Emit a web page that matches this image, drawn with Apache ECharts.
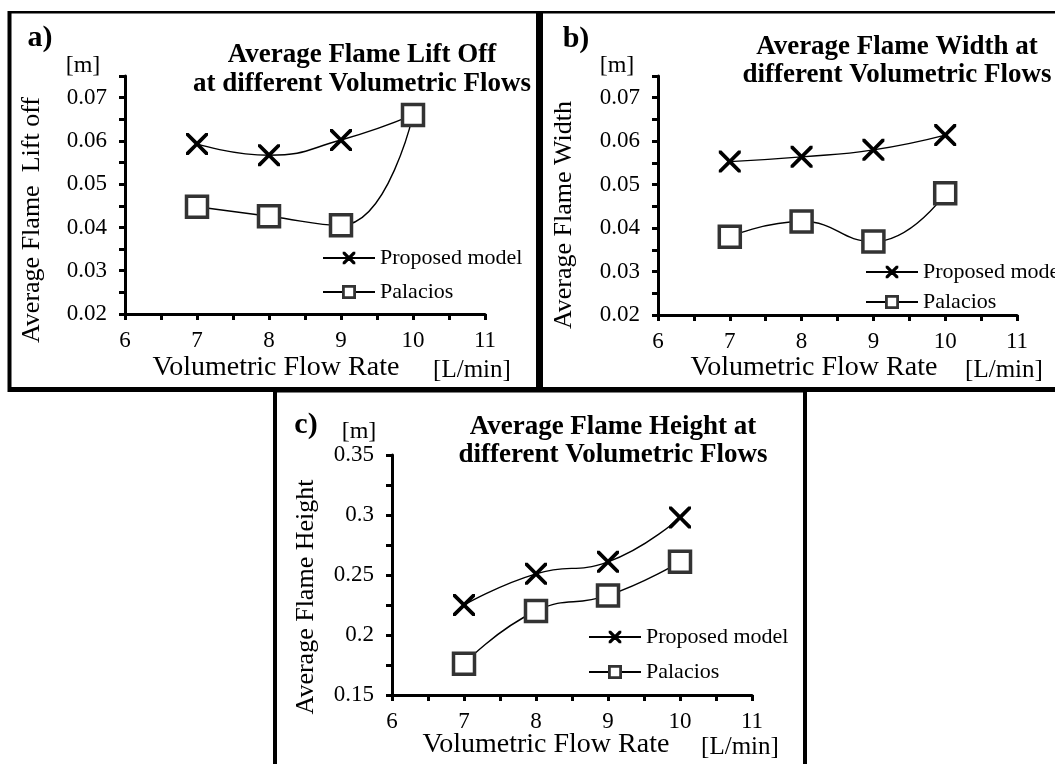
<!DOCTYPE html>
<html>
<head>
<meta charset="utf-8">
<title>Average Flame at different Volumetric Flows</title>
<script src="https://cdn.jsdelivr.net/npm/echarts@6/dist/echarts.min.js"></script>
<style>
  html, body { margin: 0; padding: 0; background: #fff; }
  #chart { width: 1055px; height: 764px; }
</style>
</head>
<body>
<div id="chart"></div>
<script>
// volumetric flow rate [L/min]
const flowRates = [7, 8, 9, 10];
const seriesNames = ['Proposed model', 'Palacios'];

// a) average flame lift off [m]
const liftOffProposed = [0.0593, 0.0567, 0.0602, 0.0660];
const liftOffPalacios = [0.0448, 0.0426, 0.0405, 0.0660];
// b) average flame width [m]
const widthProposed = [0.0553, 0.0564, 0.0580, 0.0614];
const widthPalacios = [0.0380, 0.0415, 0.0369, 0.0480];
// c) average flame height [m]
const heightProposed = [0.225, 0.251, 0.261, 0.298];
const heightPalacios = [0.176, 0.220, 0.233, 0.261];

// tick labels that are printed
const xTickLabels = [6, 7, 8, 9, 10, 11];
const yTickLabelsSmall = [0.02, 0.03, 0.04, 0.05, 0.06, 0.07];
const yTickLabelsHeight = [0.15, 0.2, 0.25, 0.3, 0.35];

const FONT = 'Liberation Serif';
// cross marker (Excel "x")
const crossPath = 'path://M0,0L12,0L50,38L88,0L100,0L100,12L62,50L100,88L100,100L88,100L50,62L12,100L0,100L0,88L38,50L0,12Z';

function pairs(ys) {
  return flowRates.map(function (x, i) { return [x, ys[i]]; });
}

function labelOf(list, v) {
  for (let i = 0; i < list.length; i++) {
    if (Math.abs(list[i] - v) < 1e-9) return list[i];
  }
  return null;
}

function xAxisFor(gi) {
  return {
    type: 'value', gridIndex: gi, min: 6, max: 11, interval: 0.5,
    axisLine: { show: true, onZero: false, lineStyle: { color: '#000', width: 3 } },
    axisTick: { show: true, length: 6, lineStyle: { color: '#000', width: 3 } },
    splitLine: { show: false },
    axisLabel: {
      margin: 15, color: '#000', fontFamily: FONT, fontSize: 23,
      formatter: function (v) { const l = labelOf(xTickLabels, v); return l === null ? '' : String(l); }
    }
  };
}

function yAxisFor(gi, min, max, step, labels) {
  return {
    type: 'value', gridIndex: gi, min: min, max: max, interval: step,
    axisLine: { show: true, onZero: false, lineStyle: { color: '#000', width: 3 } },
    axisTick: { show: true, length: 6, lineStyle: { color: '#000', width: 3 } },
    splitLine: { show: false },
    axisLabel: {
      margin: 18, color: '#000', fontFamily: FONT, fontSize: 23,
      formatter: function (v) {
        const l = labelOf(labels, v);
        if (l === null) return '';
        return l < 0.1 ? l.toFixed(2) : String(l);
      }
    }
  };
}

function proposedSeries(gi, ys) {
  return {
    name: seriesNames[0], type: 'line', xAxisIndex: gi, yAxisIndex: gi,
    data: pairs(ys), smooth: 0.5,
    symbol: crossPath, symbolSize: 22,
    lineStyle: { color: '#000', width: 1.4 },
    itemStyle: { color: '#000' },
    z: 2
  };
}

function palaciosSeries(gi, ys) {
  return {
    name: seriesNames[1], type: 'line', xAxisIndex: gi, yAxisIndex: gi,
    data: pairs(ys), smooth: 0.5,
    symbol: 'rect', symbolSize: 21,
    lineStyle: { color: '#000', width: 1.4 },
    itemStyle: { color: '#fff', borderColor: '#333', borderWidth: 3.5 },
    z: 3
  };
}

function legendFor(left, top, gap) {
  return {
    left: left, top: top, padding: 0, orient: 'vertical',
    itemWidth: 52, itemHeight: 14, itemGap: gap,
    selectedMode: false,
    textStyle: { fontFamily: FONT, fontSize: 22, color: '#000' },
    data: [
      { name: seriesNames[0], itemStyle: { borderColor: '#000', borderWidth: 1.4 } },
      { name: seriesNames[1], itemStyle: { borderWidth: 2.8 } }
    ]
  };
}

function txt(text, x, y, size, bold, rot) {
  return {
    type: 'text', x: x, y: y, rotation: rot || 0, silent: true,
    style: {
      text: text, fill: '#000', fontFamily: FONT, fontSize: size,
      fontWeight: bold ? 'bold' : 'normal',
      textAlign: 'center', textVerticalAlign: 'middle'
    }
  };
}

function bar(x, y, w, h) {
  return { type: 'rect', silent: true, shape: { x: x, y: y, width: w, height: h }, style: { fill: '#000' } };
}

const chart = echarts.init(document.getElementById('chart'), null, { renderer: 'canvas' });

chart.setOption({
  backgroundColor: '#fff',
  animation: false,
  grid: [
    { left: 125, top: 76, width: 360, height: 238, containLabel: false },
    { left: 658, top: 76, width: 359, height: 239, containLabel: false },
    { left: 392, top: 455, width: 360, height: 240, containLabel: false }
  ],
  xAxis: [xAxisFor(0), xAxisFor(1), xAxisFor(2)],
  yAxis: [
    yAxisFor(0, 0.02, 0.075, 0.005, yTickLabelsSmall),
    yAxisFor(1, 0.02, 0.075, 0.005, yTickLabelsSmall),
    yAxisFor(2, 0.15, 0.35, 0.025, yTickLabelsHeight)
  ],
  legend: [legendFor(322, 247, 12), legendFor(865, 261, 8), legendFor(588, 626, 13)],
  series: [
    proposedSeries(0, liftOffProposed), palaciosSeries(0, liftOffPalacios),
    proposedSeries(1, widthProposed), palaciosSeries(1, widthPalacios),
    proposedSeries(2, heightProposed), palaciosSeries(2, heightPalacios)
  ],
  graphic: [
    // panel frames
    bar(8, 11, 1047, 2.5),
    bar(7.5, 11, 4, 381),
    bar(536, 11, 7, 381),
    bar(8, 387, 1047, 5),
    bar(273, 387, 4, 377),
    bar(803, 387, 4, 377),
    bar(273, 391, 534, 1.5),

    // a)
    txt('a)', 40, 38, 30, true),
    txt('Average Flame Lift Off', 362, 55, 27, true),
    txt('at different Volumetric Flows', 362, 84, 27, true),
    txt('[m]', 83, 66, 24),
    txt('Average Flame  Lift off', 32, 220, 26, false, Math.PI / 2),
    txt('Volumetric Flow Rate', 276, 368, 28),
    txt('[L/min]', 472, 370, 25),

    // b)
    txt('b)', 576, 39, 30, true),
    txt('Average Flame Width at', 897, 47, 27, true),
    txt('different Volumetric Flows', 897, 75, 27, true),
    txt('[m]', 617, 66, 24),
    txt('Average Flame Width', 564, 215, 26, false, Math.PI / 2),
    txt('Volumetric Flow Rate', 814, 368, 28),
    txt('[L/min]', 1004, 370, 25),

    // c)
    txt('c)', 306, 425, 30, true),
    txt('Average Flame Height at', 613, 427, 27, true),
    txt('different Volumetric Flows', 613, 455, 27, true),
    txt('[m]', 359, 432, 24),
    txt('Average Flame Height', 306, 597, 26, false, Math.PI / 2),
    txt('Volumetric Flow Rate', 546, 745, 28),
    txt('[L/min]', 740, 747, 25)
  ]
});
</script>
</body>
</html>
